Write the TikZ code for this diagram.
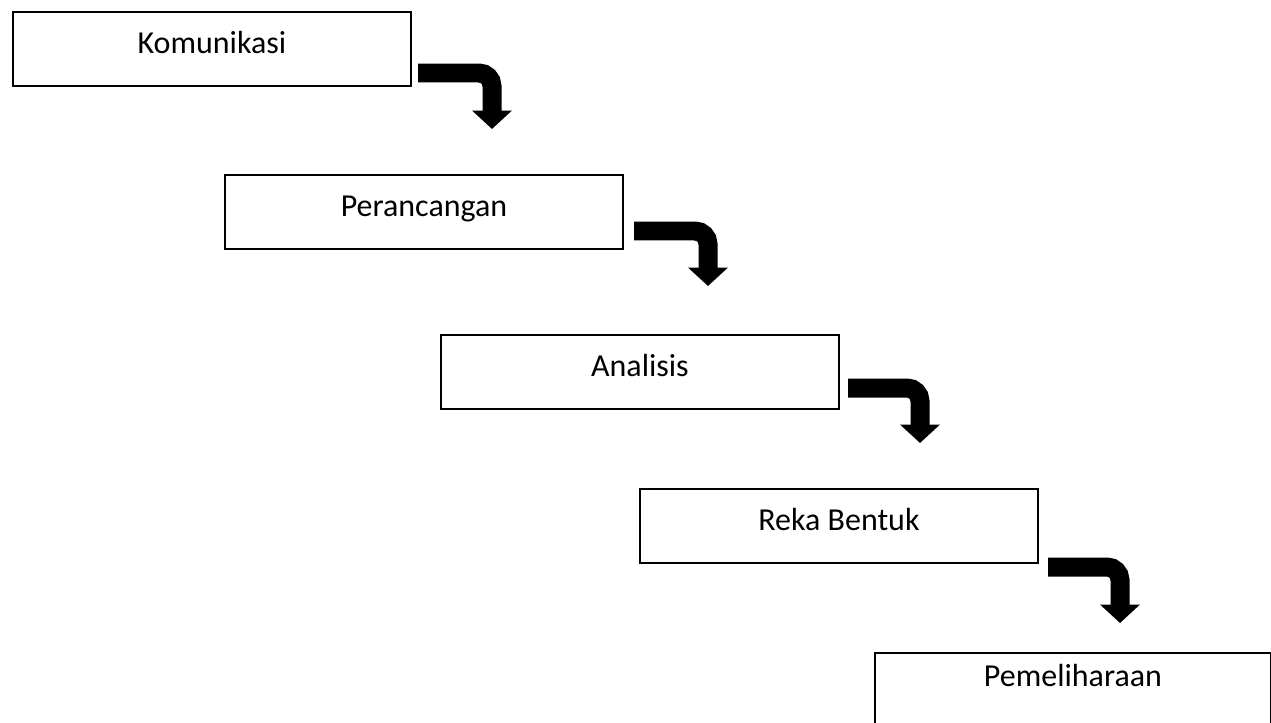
\documentclass[tikz,border=0pt]{standalone}
\usepackage{fontspec}
\setmainfont{Carlito}
\usetikzlibrary{arrows.meta}

\tikzset{
  stage/.style={draw=black, line width=0.04cm, minimum width=7.96cm, minimum height=1.48cm,
    inner sep=0pt, anchor=north west, text height=0.4cm, text depth=0.2cm,
    font=\fontsize{18.2pt}{21pt}\selectfont},
  flowarrow/.style={line width=0.38cm, rounded corners=0.26cm,
    -{Triangle[width=0.78cm,length=0.37cm]}}
}

\begin{document}
\begin{tikzpicture}[x=0.02cm,y=-0.02cm]
\useasboundingbox (0,0) rectangle (1271,723);
% stages
\node[stage] (komunikasi) at (12,11) {Komunikasi};
\node[stage] (perancangan) at (224,174) {Perancangan};
\node[stage] (analisis) at (440,334) {Analisis};
\node[stage] (rekabentuk) at (639,488) {Reka Bentuk};
\node[stage, minimum width=7.92cm, text depth=0.56cm] (pemeliharaan) at (874,652) {Pemeliharaan};
% arrow ends
\coordinate (a1s) at (418,73);   \coordinate (a1e) at (492,129);
\coordinate (a2s) at (634,231);  \coordinate (a2e) at (708,286);
\coordinate (a3s) at (848,388);  \coordinate (a3e) at (920,443);
\coordinate (a4s) at (1048,567); \coordinate (a4e) at (1120,623);
% arrows
\draw[flowarrow] (a1s) -| (a1e);
\draw[flowarrow] (a2s) -| (a2e);
\draw[flowarrow] (a3s) -| (a3e);
\draw[flowarrow] (a4s) -| (a4e);
\end{tikzpicture}
\end{document}
